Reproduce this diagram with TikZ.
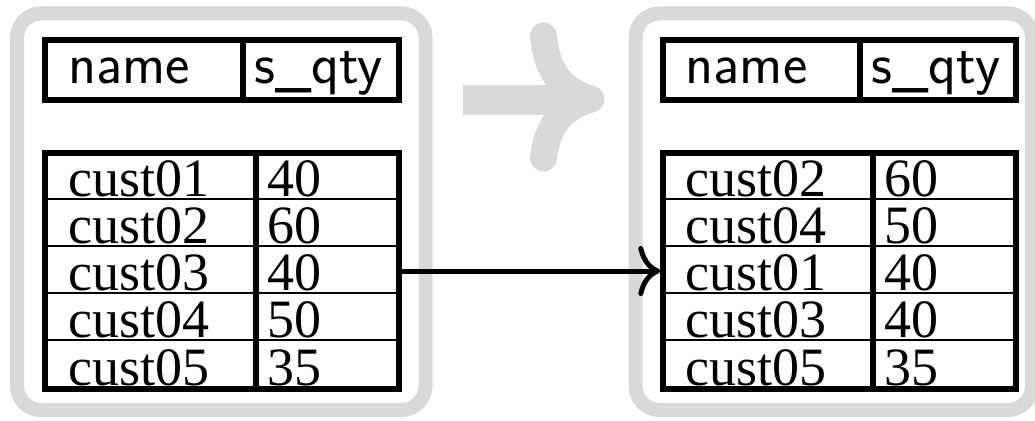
\documentclass[tikz,border=0pt]{standalone}
\usepackage{fontspec}
\newfontfamily\cellfont{Liberation Serif}
\usetikzlibrary{arrows.meta}
\definecolor{framegray}{HTML}{D9D9D9}
\newcommand\drawdbtable[2]{%
  % thin row separators
  \foreach \yy in {199,246,293,340} {\draw[rowline] (45,\yy) -- (398.5,\yy);}
  % header
  \draw[thickborder] (45,40) rectangle (398.5,100);
  \draw[thickborder] (242.5,40) -- (242.5,100);
  \node[hdr] (#1h1) at (68,83) {name};
  \node[hdr] (#1h2) at (254,83) {s\_qty};
  % data
  \draw[thickborder] (45,153) rectangle (398.5,389);
  \draw[thickborder] (255.5,153) -- (255.5,389);
  \foreach \n/\q/\b/\c [count=\i] in {#2} {
    \node[rowbox] (#1r\i) at (221.75,\c) {};
    \node[cell] (#1n\i) at (68,\b) {\n};
    \node[cell] (#1q\i) at (267,\b) {\q};
  }
}
\begin{document}
\begin{tikzpicture}[x=1pt,y=-1pt,
  container/.style={draw=framegray, line width=14pt, rounded corners=24pt},
  thickborder/.style={draw=black, line width=6pt},
  rowline/.style={draw=black, line width=2pt},
  hdr/.style={font=\fontsize{58}{60}\sffamily\selectfont, anchor=base west, inner sep=0pt},
  cell/.style={font=\fontsize{54}{56}\cellfont, anchor=base west, inner sep=0pt},
  rowbox/.style={inner sep=0pt, minimum width=353.5pt, minimum height=47pt},
  bigarrow/.style={draw=framegray, line width=27pt, line cap=round, line join=round}
]
\useasboundingbox (0,0) rectangle (1035,420);
% containers
\draw[container] (17,13.5) rectangle (425.5,410);
\draw[container] (635.5,13.5) rectangle (1032,410);
% big gray arrow
\fill[framegray] (463,85) rectangle (580,115);
\draw[bigarrow] (543.5,36) .. controls (547,72) and (562,91) .. (591,99)
                .. controls (562,107) and (547,126) .. (543.5,158);
% tables
\drawdbtable{L}{cust01/40/196/176, cust02/60/243/222.5, cust03/40/290/271, cust04/50/337/316.5, cust05/35/385/364.5}
\begin{scope}[xshift=617.5pt]
\drawdbtable{R}{cust02/60/196/176, cust04/50/243/222.5, cust01/40/290/271, cust03/40/337/316.5, cust05/35/385/364.5}
\end{scope}
% connector
\draw[line width=5pt, -{Computer Modern Rightarrow[length=22pt,width=50pt]}, shorten >=2pt]
  (Lr3.east) -- (Rr3.west);
\end{tikzpicture}
\end{document}
